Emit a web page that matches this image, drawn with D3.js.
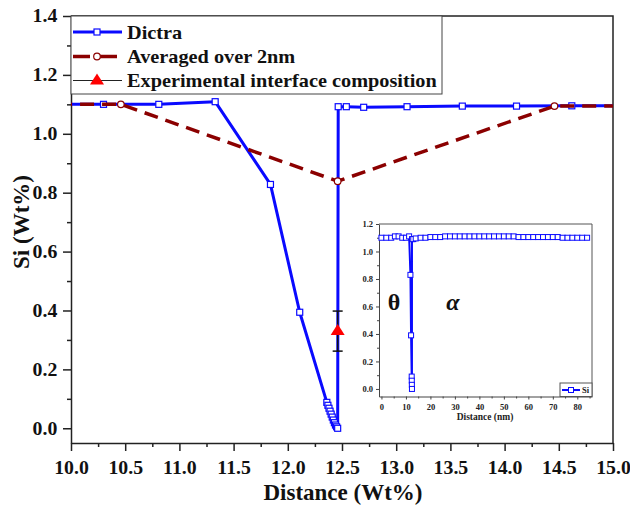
<!DOCTYPE html>
<html><head><meta charset="utf-8">
<script src="https://cdn.jsdelivr.net/npm/d3@7"></script>
<style>
html,body{margin:0;padding:0;background:#fff;}
</style></head>
<body><svg id="c" width="630" height="506"></svg>
<script>
// ---- main chart data ----
const dictraX = [9.8, 10.3, 10.81, 11.33, 11.84, 12.11, 12.36, 12.37, 12.38, 12.39, 12.40, 12.41, 12.42, 12.43, 12.44, 12.45, 12.46, 12.465, 12.54, 12.70, 13.10, 13.61, 14.11, 14.62, 15.12];
const dictraY = [1.10, 1.10, 1.10, 1.109, 0.828, 0.394, 0.088, 0.078, 0.068, 0.058, 0.048, 0.038, 0.028, 0.019, 0.011, 0.005, 0.0, 1.092, 1.092, 1.090, 1.092, 1.094, 1.094, 1.095, 1.095];
const avgX = [8.46, 10.46, 12.46, 14.46, 16.46];
const avgY = [1.10, 1.10, 0.839, 1.094, 1.095];
const expX = [12.46];
const expY = [0.33];
const expErr = [0.068];
const xTicks = [10.0, 10.5, 11.0, 11.5, 12.0, 12.5, 13.0, 13.5, 14.0, 14.5, 15.0];
const yTicks = [0.0, 0.2, 0.4, 0.6, 0.8, 1.0, 1.2, 1.4];
const legendLabels = ["Dictra", "Averaged over 2nm", "Experimental interface composition"];

// ---- inset data ----
const insetX = [0, 2, 4, 5.5, 7, 8.5, 10, 11.3, 11.84, 12.1, 12.36, 12.39, 12.42, 12.46, 12.47, 13, 14, 16, 18, 20, 22, 24, 26, 28, 30, 32, 34, 36, 38, 40, 42, 44, 46, 48, 50, 52, 54, 56, 58, 60, 62, 64, 66, 68, 70, 72, 74, 76, 78, 80, 82, 84];
const insetY = [1.10, 1.10, 1.10, 1.11, 1.11, 1.10, 1.10, 1.11, 0.83, 0.39, 0.09, 0.06, 0.03, 0.0, 1.09, 1.09, 1.095, 1.10, 1.10, 1.105, 1.105, 1.105, 1.11, 1.11, 1.11, 1.11, 1.11, 1.11, 1.11, 1.11, 1.11, 1.11, 1.11, 1.11, 1.11, 1.11, 1.11, 1.105, 1.105, 1.105, 1.105, 1.105, 1.105, 1.105, 1.105, 1.105, 1.10, 1.10, 1.10, 1.10, 1.10, 1.10];
const insetXTicks = [0, 10, 20, 30, 40, 50, 60, 70, 80];
const insetYTicks = [0.0, 0.2, 0.4, 0.6, 0.8, 1.0, 1.2];

const FONT = "'Liberation Serif', 'Times New Roman', 'DejaVu Serif', serif";
const svg = d3.select("#c");
const BLUE = "#0a0aff", RED = "#8b0000";

const x = d3.scaleLinear().domain([10, 15]).range([71, 613]);
const y = d3.scaleLinear().domain([-0.05, 1.4]).range([443, 16]);

svg.append("clipPath").attr("id", "clipMain").append("rect")
  .attr("x", 71).attr("y", 16).attr("width", 542).attr("height", 427);

// axes
const minorX = d3.range(10.25, 15, 0.5);
const minorY = d3.range(0.1, 1.4, 0.2);
const gx = svg.append("g").attr("transform", "translate(0,443)")
  .call(d3.axisBottom(x).tickValues(xTicks).tickFormat(d3.format(".1f")).tickSize(8).tickSizeOuter(0));
svg.append("g").attr("transform", "translate(0,443)")
  .call(d3.axisBottom(x).tickValues(minorX).tickFormat("").tickSize(4).tickSizeOuter(0))
  .select(".domain").remove();
const gy = svg.append("g").attr("transform", "translate(71,0)")
  .call(d3.axisLeft(y).tickValues(yTicks).tickFormat(d3.format(".1f")).tickSize(8).tickSizeOuter(0));
svg.append("g").attr("transform", "translate(71,0)")
  .call(d3.axisLeft(y).tickValues(minorY).tickFormat("").tickSize(4).tickSizeOuter(0))
  .select(".domain").remove();
svg.selectAll(".tick line").attr("stroke", "#222").attr("stroke-width", 1.5);
svg.selectAll(".domain").attr("stroke", "#222").attr("stroke-width", 1.5);
gx.selectAll("text").attr("font-size", 18).attr("dy", "1.1em").attr("fill", "#111").attr("class", "stretch");
gy.selectAll("text").attr("font-size", 18).attr("dx", "-0.15em").attr("fill", "#111").attr("class", "stretch");

// frame top/right
svg.append("path").attr("d", `M71,16H613V443`).attr("fill", "none").attr("stroke", "#222").attr("stroke-width", 1.5);

svg.append("text").attr("x", 343).attr("y", 500).attr("text-anchor", "middle")
  .attr("font-size", 23).attr("fill", "#111").text("Distance (Wt%)");
svg.append("text").attr("transform", "translate(29,222) rotate(-90)").attr("text-anchor", "middle")
  .attr("font-size", 23).attr("fill", "#111").text("Si (Wt%)");

const plot = svg.append("g").attr("clip-path", "url(#clipMain)");
const dictra = dictraX.map((d, i) => [d, dictraY[i]]);
const avg = avgX.map((d, i) => [d, avgY[i]]);
const line = d3.line().x(d => x(d[0])).y(d => y(d[1]));

plot.append("path").datum(dictra).attr("d", line).attr("fill", "none")
  .attr("stroke", BLUE).attr("stroke-width", 3).attr("stroke-linejoin", "round");
plot.selectAll(".dm").data(dictra).join("rect").attr("class", "dm")
  .attr("x", d => x(d[0]) - 3).attr("y", d => y(d[1]) - 3).attr("width", 6).attr("height", 6)
  .attr("fill", "#fff").attr("stroke", BLUE).attr("stroke-width", 1.2);

plot.append("path").datum(avg).attr("d", line).attr("fill", "none")
  .attr("stroke", RED).attr("stroke-width", 3.5).attr("stroke-dasharray", "14,8");
plot.selectAll(".am").data(avg).join("circle").attr("class", "am")
  .attr("cx", d => x(d[0])).attr("cy", d => y(d[1])).attr("r", 3.3)
  .attr("fill", "#fff").attr("stroke", RED).attr("stroke-width", 1.2);

// experimental error bar + triangle
expX.forEach((ex, i) => {
  const cx = x(ex), top = y(expY[i] + expErr[i]), bot = y(expY[i] - expErr[i]);
  plot.append("line").attr("x1", cx).attr("x2", cx).attr("y1", top).attr("y2", bot).attr("stroke", "#111").attr("stroke-width", 1.5);
  [top, bot].forEach(v => plot.append("line").attr("x1", cx - 5).attr("x2", cx + 5).attr("y1", v).attr("y2", v).attr("stroke", "#111").attr("stroke-width", 1.5));
  const cy = y(expY[i]);
  plot.append("path").attr("d", `M${cx},${cy - 7}L${cx + 7},${cy + 4}L${cx - 7},${cy + 4}Z`).attr("fill", "#f00");
});

// legend
const lg = svg.append("g");
lg.append("rect").attr("x", 71).attr("y", 16).attr("width", 371).attr("height", 78)
  .attr("fill", "#fff").attr("stroke", "#444").attr("stroke-width", 1);
const ly = [32, 56.5, 80.5];
lg.append("line").attr("x1", 73).attr("x2", 122).attr("y1", ly[0]).attr("y2", ly[0]).attr("stroke", BLUE).attr("stroke-width", 3);
lg.append("rect").attr("x", 97 - 3).attr("y", ly[0] - 3).attr("width", 6).attr("height", 6).attr("fill", "#fff").attr("stroke", BLUE).attr("stroke-width", 1.2);
lg.append("line").attr("x1", 73).attr("x2", 122).attr("y1", ly[1]).attr("y2", ly[1]).attr("stroke", RED).attr("stroke-width", 3.5).attr("stroke-dasharray", "17,10");
lg.append("circle").attr("cx", 97).attr("cy", ly[1]).attr("r", 3.3).attr("fill", "#fff").attr("stroke", RED).attr("stroke-width", 1.2);
lg.append("line").attr("x1", 73).attr("x2", 122).attr("y1", ly[2]).attr("y2", ly[2]).attr("stroke", "#222").attr("stroke-width", 1);
lg.append("path").attr("d", `M97,${ly[2] - 7}L104,${ly[2] + 4}L90,${ly[2] + 4}Z`).attr("fill", "#f00");
legendLabels.forEach((t, i) => lg.append("text").attr("x", 127).attr("y", ly[i] + 6.5)
  .attr("font-size", 19.5).attr("fill", "#111").attr("class", "stretchL").text(t));

// ---- inset ----
const ix = d3.scaleLinear().domain([-1, 86]).range([379, 592]);
const iy = d3.scaleLinear().domain([-0.055, 1.2]).range([396.5, 224]);
const ins = svg.append("g");
ins.append("rect").attr("x", 379).attr("y", 224).attr("width", 213).attr("height", 172.5).attr("fill", "#fff");
const igx = ins.append("g").attr("transform", "translate(0,396.5)")
  .call(d3.axisBottom(ix).tickValues(insetXTicks).tickFormat(d3.format("d")).tickSize(3).tickSizeOuter(0));
ins.append("g").attr("transform", "translate(0,396.5)")
  .call(d3.axisBottom(ix).tickValues(d3.range(5, 86, 10)).tickFormat("").tickSize(2).tickSizeOuter(0))
  .select(".domain").remove();
const igy = ins.append("g").attr("transform", "translate(379,0)")
  .call(d3.axisLeft(iy).tickValues(insetYTicks).tickFormat(d3.format(".1f")).tickSize(3).tickSizeOuter(0));
ins.append("g").attr("transform", "translate(379,0)")
  .call(d3.axisLeft(iy).tickValues(d3.range(0.1, 1.2, 0.2)).tickFormat("").tickSize(2).tickSizeOuter(0))
  .select(".domain").remove();
ins.selectAll(".tick line").attr("stroke", "#444").attr("stroke-width", 1);
ins.selectAll(".domain").attr("stroke", "#444").attr("stroke-width", 1);
igx.selectAll("text").attr("font-size", 8.5).attr("dy", "0.9em").attr("fill", "#222");
igy.selectAll("text").attr("font-size", 8.5).attr("fill", "#222");
ins.append("path").attr("d", "M379,224H592V396.5").attr("fill", "none").attr("stroke", "#555").attr("stroke-width", 1);
ins.append("text").attr("x", 485).attr("y", 420).attr("text-anchor", "middle").attr("font-size", 9.5).attr("fill", "#222").text("Distance (nm)");

const ipts = insetX.map((d, i) => [d, insetY[i]]);
ins.append("path").datum(ipts).attr("d", d3.line().x(d => ix(d[0])).y(d => iy(d[1])))
  .attr("fill", "none").attr("stroke", BLUE).attr("stroke-width", 2);
ins.selectAll(".im").data(ipts).join("rect").attr("class", "im")
  .attr("x", d => ix(d[0]) - 2.5).attr("y", d => iy(d[1]) - 2.5).attr("width", 5).attr("height", 5)
  .attr("fill", "#fff").attr("stroke", BLUE).attr("stroke-width", 1);

ins.append("text").attr("x", 394).attr("y", 310).attr("text-anchor", "middle").attr("font-size", 24).attr("fill", "#111").text("θ");
ins.append("text").attr("x", 453).attr("y", 310).attr("text-anchor", "middle").attr("font-size", 24).attr("font-style", "italic").attr("fill", "#111").text("α");

// inset legend
ins.append("rect").attr("x", 560).attr("y", 383).attr("width", 32).attr("height", 13.5).attr("fill", "#fff").attr("stroke", "#555").attr("stroke-width", 1);
ins.append("line").attr("x1", 562).attr("x2", 580).attr("y1", 390).attr("y2", 390).attr("stroke", BLUE).attr("stroke-width", 2);
ins.append("rect").attr("x", 568.5).attr("y", 387.5).attr("width", 5).attr("height", 5).attr("fill", "#fff").attr("stroke", BLUE).attr("stroke-width", 1);
ins.append("text").attr("x", 582).attr("y", 393).attr("font-size", 8.5).attr("fill", "#222").text("Si");

// apply serif bold font to all texts
svg.selectAll("g").attr("font-family", null);
svg.selectAll("text").style("font-family", FONT).style("font-weight", "bold");
// horizontal stretch like the reference figure
function stretch(sel, k) {
  sel.each(function () {
    const w = this.getComputedTextLength();
    if (w > 0) d3.select(this).attr("textLength", w * k).attr("lengthAdjust", "spacingAndGlyphs");
  });
}
stretch(svg.selectAll("text.stretch"), 1.1);
stretch(svg.selectAll("text.stretchL"), 1.04);
</script></body></html>
